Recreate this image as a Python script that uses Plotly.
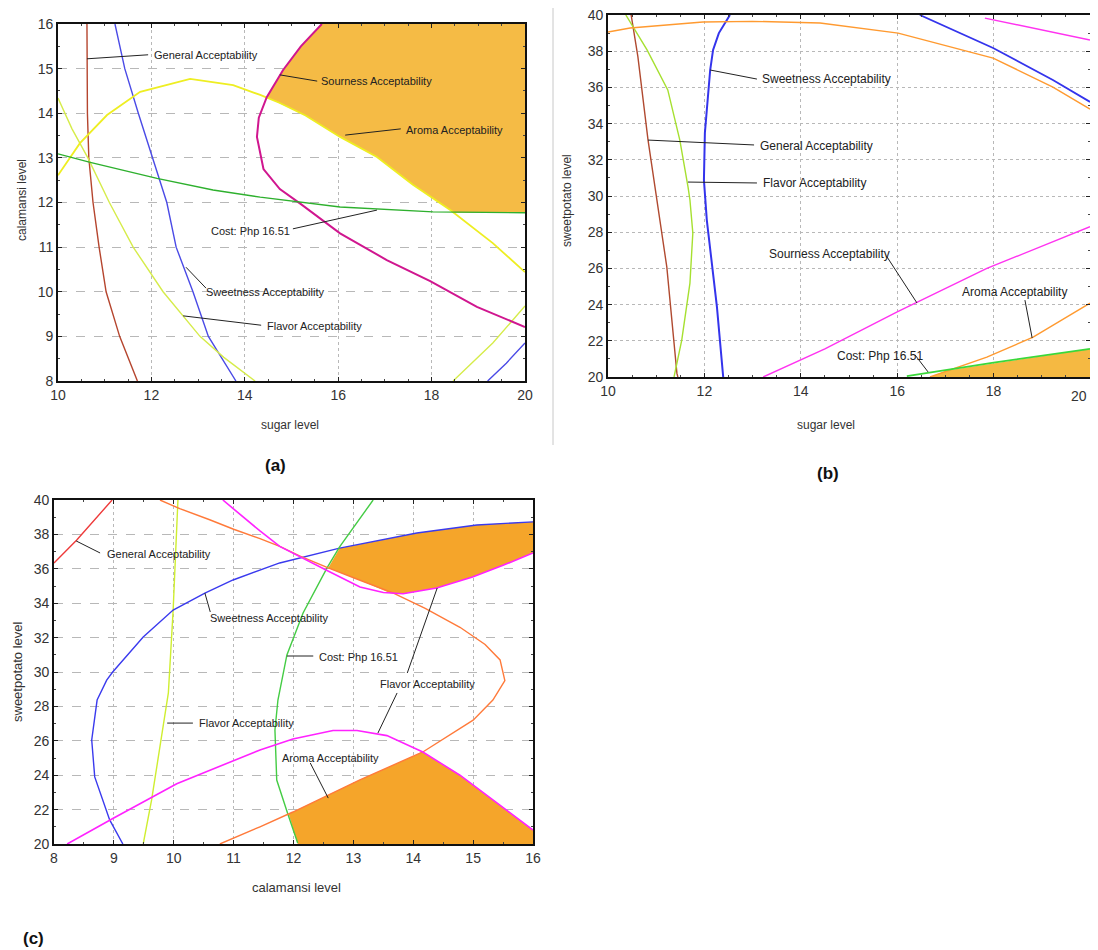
import plotly.graph_objects as go

# page body has an 8px margin: figure is sized to fill the window exactly
OFF = 8
W, H = 1098 - OFF, 950 - OFF

# ---------------- Panel (a): sugar level vs calamansi level ----------------
a_general_x = [10.62, 10.62, 10.63, 10.66, 10.75, 10.88, 11.03, 11.32, 11.70]
a_general_y = [16, 15, 14, 13, 12, 11, 10, 9, 8]
a_sweet_x = [11.22, 11.43, 11.72, 12.03, 12.33, 12.53, 12.89, 13.22, 13.81]
a_sweet_y = [16, 15, 14, 13, 12, 11, 10, 9, 8]
a_sweet2_x = [19.2, 19.6, 20.0]
a_sweet2_y = [8.0, 8.4, 8.85]
a_flavor_x = [10.0, 10.3, 10.64, 11.1, 11.61, 12.25, 13.04, 13.55, 14.22]
a_flavor_y = [14.34, 13.65, 13.0, 12.0, 11.0, 10.0, 9.0, 8.53, 8.0]
a_flavor2_x = [18.46, 19.31, 20.0]
a_flavor2_y = [8.0, 8.85, 9.68]
a_aroma_x = [10.0, 10.47, 11.05, 11.76, 12.83, 13.75, 14.33, 14.75, 15.3, 16.04, 16.83, 17.6, 18.4, 19.31, 20.0]
a_aroma_y = [12.61, 13.33, 13.96, 14.48, 14.77, 14.63, 14.41, 14.23, 13.95, 13.47, 13.02, 12.4, 11.83, 11.09, 10.44]
a_sour_x = [15.65, 15.2, 14.82, 14.47, 14.3, 14.26, 14.4, 14.75, 15.18, 16.04, 17.04, 17.97, 18.97, 20.0]
a_sour_y = [16.0, 15.5, 14.97, 14.36, 13.9, 13.47, 12.75, 12.3, 11.98, 11.31, 10.71, 10.24, 9.66, 9.21]
a_cost_x = [10.0, 10.69, 12.12, 13.32, 14.33, 16.04, 18.03, 20.0]
a_cost_y = [13.09, 12.9, 12.54, 12.28, 12.12, 11.9, 11.79, 11.77]
a_region_x = [15.65, 20.0, 20.0, 18.47, 18.4, 17.6, 16.83, 16.04, 15.3, 14.75, 14.47, 14.82, 15.2, 15.65]
a_region_y = [16.0, 16.0, 11.77, 11.77, 11.83, 12.4, 13.02, 13.47, 13.95, 14.23, 14.36, 14.97, 15.5, 16.0]

# ---------------- Panel (b): sugar level vs sweetpotato level ----------------
b_general_x = [10.48, 10.62, 10.83, 11.02, 11.22, 11.43, 11.45]
b_general_y = [40, 37.7, 33.1, 29.8, 26.08, 20.2, 20]
b_flavor_x = [10.37, 10.81, 11.24, 11.49, 11.66, 11.70, 11.76, 11.70, 11.53, 11.37]
b_flavor_y = [40, 38.07, 35.86, 33.09, 30.5, 29.78, 27.96, 25.19, 22.04, 20]
b_sweet_x = [12.53, 12.30, 12.18, 12.12, 12.01, 11.99, 12.05, 12.16, 12.26, 12.39]
b_sweet_y = [40, 39, 38.07, 36.96, 33.48, 30.88, 28.67, 26.08, 23.87, 20]
b_sweet2_x = [16.47, 17.99, 19.23, 20.0]
b_sweet2_y = [40, 38.18, 36.41, 35.2]
b_aroma_x = [10.0, 10.46, 11.97, 13.0, 14.4, 16.02, 17.99, 19.23, 20.0]
b_aroma_y = [39.06, 39.28, 39.61, 39.65, 39.56, 39.0, 37.62, 36.02, 34.8]
b_aroma2_x = [16.68, 17.86, 18.82, 20.0]
b_aroma2_y = [20.0, 21.1, 22.2, 24.08]
b_sour_x = [17.82, 20.0]
b_sour_y = [39.83, 38.62]
b_sour2_x = [13.22, 14.5, 16.0, 17.86, 20.0]
b_sour2_y = [20.0, 21.55, 23.6, 26.0, 28.3]
b_cost_x = [16.2, 18.0, 20.0]
b_cost_y = [20.05, 20.8, 21.55]
b_region_x = [16.68, 17.03, 20.0, 20.0, 16.68]
b_region_y = [20.0, 20.36, 21.55, 20.0, 20.0]

# ---------------- Panel (c): calamansi level vs sweetpotato level ----------------
c_general_x = [8.0, 8.38, 8.97]
c_general_y = [36.34, 37.67, 40.0]
c_flavor_x = [10.07, 10.03, 9.99, 9.91, 9.77, 9.63, 9.49]
c_flavor_y = [40, 37, 33.6, 28.78, 25.64, 22.56, 20]
c_sweet_x = [9.15, 8.93, 8.68, 8.63, 8.72, 8.88, 8.98, 9.49, 9.99, 10.52, 10.99, 11.77, 12.77, 14.06, 15.06, 16.0]
c_sweet_y = [20, 21.4, 23.9, 26.05, 28.37, 29.53, 30.0, 32.03, 33.6, 34.59, 35.35, 36.34, 37.2, 38.08, 38.55, 38.73]
c_cost_x = [13.33, 12.77, 12.56, 12.16, 11.89, 11.74, 11.69, 11.72, 11.9, 12.07]
c_cost_y = [40, 37.27, 36.05, 33.43, 30.99, 28.37, 26.63, 23.72, 21.8, 20.06]
c_aroma_x = [9.77, 10.1, 10.6, 11.0, 11.44, 11.77, 12.1, 12.58, 13.1, 13.66, 14.2, 14.78, 15.2, 15.45, 15.53,
             15.33, 15.0, 14.6, 14.16, 13.1, 11.99, 11.44, 10.77]
c_aroma_y = [40, 39.5, 38.85, 38.3, 37.75, 37.3, 36.75, 36.05, 35.35, 34.6, 33.7, 32.6, 31.6, 30.7, 29.5,
             28.37, 27.2, 26.3, 25.35, 23.72, 21.86, 21.0, 20.0]
c_mag_x = [10.82, 11.44, 11.77, 12.1, 12.56, 13.11, 13.5, 13.83, 14.39, 14.99, 15.5, 16.0]
c_mag_y = [40, 38.2, 37.3, 36.7, 35.9, 34.94, 34.62, 34.55, 34.88, 35.52, 36.2, 36.92]
c_mag2_x = [8.22, 8.99, 10.05, 11.0, 11.44, 11.99, 12.66, 13.06, 13.56, 14.16, 14.78, 15.33, 16.0]
c_mag2_y = [20, 21.5, 23.5, 24.85, 25.47, 26.1, 26.6, 26.6, 26.3, 25.35, 24.0, 22.56, 20.81]
c_region1_x = [12.58, 12.77, 14.06, 15.06, 16.0, 16.0, 15.5, 14.99, 14.39, 13.83, 13.62, 13.1, 12.58]
c_region1_y = [36.05, 37.2, 38.08, 38.55, 38.73, 36.92, 36.2, 35.52, 34.88, 34.55, 34.58, 35.35, 36.05]
c_region2_x = [12.07, 11.98, 11.92, 13.1, 14.16, 14.78, 15.33, 16.0, 16.0, 12.07]
c_region2_y = [20.0, 21.0, 21.75, 23.72, 25.35, 24.0, 22.56, 20.81, 20.0, 20.0]

# tick values
a_xticks = [10, 12, 14, 16, 18, 20]
a_yticks = [8, 9, 10, 11, 12, 13, 14, 15, 16]
b_xticks = [10, 12, 14, 16, 18, 20]
b_yticks = [20, 22, 24, 26, 28, 30, 32, 34, 36, 38, 40]
c_xticks = [8, 9, 10, 11, 12, 13, 14, 15, 16]
c_yticks = [20, 22, 24, 26, 28, 30, 32, 34, 36, 38, 40]

FONT = "Liberation Sans, Arial, sans-serif"
fig = go.Figure()


def line(x, y, color, ax, width=1.4):
    xa, ya = ax
    fig.add_trace(go.Scatter(x=x, y=y, mode="lines", line=dict(color=color, width=width),
                             xaxis=xa, yaxis=ya, showlegend=False, hoverinfo="skip"))


def region(x, y, color, ax):
    xa, ya = ax
    fig.add_trace(go.Scatter(x=x, y=y, mode="lines", fill="toself", fillcolor=color,
                             line=dict(width=0, color=color), xaxis=xa, yaxis=ya,
                             showlegend=False, hoverinfo="skip"))


A, B, C = ("x", "y"), ("x2", "y2"), ("x3", "y3")

# panel a
region(a_region_x, a_region_y, "#f5bb45", A)
line(a_general_x, a_general_y, "#b5452e", A)
line(a_sweet_x, a_sweet_y, "#4a4ae6", A)
line(a_sweet2_x, a_sweet2_y, "#4a4ae6", A)
line(a_flavor_x, a_flavor_y, "#d6ec4a", A)
line(a_flavor2_x, a_flavor2_y, "#d6ec4a", A)
line(a_aroma_x, a_aroma_y, "#eeee22", A, 1.8)
line(a_sour_x, a_sour_y, "#d0168f", A, 2.0)
line(a_cost_x, a_cost_y, "#2eb02e", A)

# panel b
region(b_region_x, b_region_y, "#f5b942", B)
line(b_general_x, b_general_y, "#b04a30", B)
line(b_flavor_x, b_flavor_y, "#a6e030", B)
line(b_sweet_x, b_sweet_y, "#3434ec", B, 2.0)
line(b_sweet2_x, b_sweet2_y, "#3434ec", B, 1.8)
line(b_aroma_x, b_aroma_y, "#ff9a30", B)
line(b_aroma2_x, b_aroma2_y, "#ff9a30", B)
line(b_sour_x, b_sour_y, "#ff33f0", B)
line(b_sour2_x, b_sour2_y, "#ff33f0", B)
line(b_cost_x, b_cost_y, "#3ad83a", B, 1.8)

# panel c
region(c_region1_x, c_region1_y, "#f5a52a", C)
region(c_region2_x, c_region2_y, "#f5a52a", C)
line(c_general_x, c_general_y, "#ee3a3a", C)
line(c_flavor_x, c_flavor_y, "#cfee30", C)
line(c_sweet_x, c_sweet_y, "#3a3aee", C)
line(c_cost_x, c_cost_y, "#44cc44", C)
line(c_aroma_x, c_aroma_y, "#ff7a3a", C)
line(c_mag_x, c_mag_y, "#ff22ff", C, 1.6)
line(c_mag2_x, c_mag2_y, "#ff22ff", C, 1.6)

# ---------------- axes ----------------
def axis(domain, ticks, rng, anchor, griddash, ticktext=None):
    d = dict(domain=domain, range=rng, tickvals=ticks, anchor=anchor,
             showline=True, linecolor="#111", linewidth=1.6, mirror="allticks",
             ticks="inside", ticklen=4, tickcolor="#222",
             minor=dict(ticks="inside", ticklen=2, tickcolor="#444", nticks=5),
             showgrid=True, gridcolor="#b8b8b8", gridwidth=1, griddash=griddash,
             zeroline=False, automargin=False, ticklabeloverflow="allow",
             tickfont=dict(family=FONT, size=14, color="#333"))
    if ticktext is not None:
        d["ticktext"] = ticktext
    return d


def px2x(p):
    return (p - OFF) / W


def py2y(p):
    return 1 - (p - OFF) / H


# last x label of panel (b) sits at the window edge: drawn right-aligned below
b_xtext = [str(v) for v in b_xticks[:-1]] + [""]

fig.update_layout(
    width=W, height=H, margin=dict(l=0, r=0, t=0, b=0, pad=0, autoexpand=False),
    paper_bgcolor="white", plot_bgcolor="white", showlegend=False,
    xaxis=axis([px2x(58), px2x(525)], a_xticks, [10, 20], "y", "dot"),
    yaxis=axis([py2y(381), py2y(24)], a_yticks, [8, 16], "x", "dash"),
    xaxis2=axis([px2x(608), px2x(1090)], b_xticks, [10, 20], "y2", "dot", b_xtext),
    yaxis2=axis([py2y(377), py2y(15)], b_yticks, [20, 40], "x2", "dot"),
    xaxis3=axis([px2x(54), px2x(533)], c_xticks, [8, 16], "y3", "dot"),
    yaxis3=axis([py2y(844), py2y(500)], c_yticks, [20, 40], "x3", "dash"),
)

# ---------------- labels with leader lines ----------------
labels = [
    # (xref, yref, text, tx, ty, lx0, ly0, lx1, ly1, size)
    ("x", "y", "General Acceptability", 12.01, 15.31, 10.62, 15.22, 11.93, 15.31, 11),
    ("x", "y", "Sourness Acceptability", 15.59, 14.72, 14.75, 14.86, 15.55, 14.72, 11),
    ("x", "y", "Aroma Acceptability", 17.41, 13.62, 16.15, 13.51, 17.34, 13.65, 11),
    ("x", "y", "Sweetness Acceptability", 13.13, 9.99, 12.74, 10.55, 13.17, 10.08, 11),
    ("x", "y", "Flavor Acceptability", 14.43, 9.23, 12.68, 9.46, 14.35, 9.25, 11),
    ("x2", "y2", "Sweetness Acceptability", 13.15, 36.46, 12.12, 36.96, 13.09, 36.46, 12),
    ("x2", "y2", "General Acceptability", 13.11, 32.76, 10.83, 33.09, 13.03, 32.82, 12),
    ("x2", "y2", "Flavor Acceptability", 13.17, 30.72, 11.66, 30.77, 13.09, 30.72, 12),
    ("x2", "y2", "Sourness Acceptability", 13.30, 26.80, 15.79, 26.63, 16.41, 24.09, 12),
    ("x2", "y2", "Aroma Acceptability", 17.30, 24.70, 18.65, 24.25, 18.80, 22.15, 12),
    ("x2", "y2", "Cost: Php 16.51", 14.71, 21.16, 16.37, 21.22, 16.64, 20.28, 12),
    ("x3", "y3", "General Acceptability", 8.85, 36.86, 8.37, 37.62, 8.77, 36.92, 11),
    ("x3", "y3", "Sweetness Acceptability", 10.57, 33.14, 10.52, 34.59, 10.61, 33.49, 11),
    ("x3", "y3", "Cost: Php 16.51", 12.39, 30.87, 11.89, 30.93, 12.33, 30.93, 11),
    ("x3", "y3", "Flavor Acceptability", 13.41, 29.30, 14.40, 34.88, 13.90, 29.94, 11),
    ("x3", "y3", "Flavor Acceptability", 10.39, 27.03, 9.89, 27.03, 10.32, 27.03, 11),
    ("x3", "y3", "Aroma Acceptability", 11.77, 25.00, 12.28, 24.71, 12.58, 22.67, 11),
]
extra_leaders = [
    ("x", "y", 15.03, 11.41, 16.83, 11.83),
    ("x3", "y3", 13.73, 28.78, 13.41, 26.45),
]

annotations = []
shapes = []
for xr, yr, text, tx, ty, x0, y0, x1, y1, size in labels:
    annotations.append(dict(xref=xr, yref=yr, x=tx, y=ty, text=text, showarrow=False,
                            xanchor="left", yanchor="middle",
                            font=dict(family=FONT, size=size, color="#222")))
    shapes.append(dict(type="line", xref=xr, yref=yr, x0=x0, y0=y0, x1=x1, y1=y1,
                       line=dict(color="#222", width=1)))
annotations.append(dict(xref="x", yref="y", x=15.01, y=11.36, text="Cost: Php 16.51", showarrow=False,
                        xanchor="right", yanchor="middle", font=dict(family=FONT, size=11, color="#222")))
for xr, yr, x0, y0, x1, y1 in extra_leaders:
    shapes.append(dict(type="line", xref=xr, yref=yr, x0=x0, y0=y0, x1=x1, y1=y1,
                       line=dict(color="#222", width=1)))

# right-most tick label of panel (b), kept inside the visible window
annotations.append(dict(xref="paper", yref="paper", x=px2x(1089), y=py2y(386), text=str(b_xticks[-1]),
                        showarrow=False, xanchor="right", yanchor="top",
                        font=dict(family=FONT, size=14, color="#333")))

# axis titles and panel letters (window pixel positions)
titles = [
    ("sugar level", 290, 425, 0, 12, False),
    ("calamansi level", 22, 200, -90, 12, False),
    ("sugar level", 826, 425, 0, 12, False),
    ("sweetpotato level", 567, 200, -90, 12, False),
    ("calamansi level", 296, 887, 0, 13, False),
    ("sweetpotato level", 17, 672, -90, 13, False),
    ("(a)", 275, 465, 0, 17, True),
    ("(b)", 828, 473, 0, 17, True),
    ("(c)", 33, 938, 0, 17, True),
]
for text, px, py, ang, size, bold in titles:
    annotations.append(dict(xref="paper", yref="paper", x=px2x(px), y=py2y(py),
                            text=f"<b>{text}</b>" if bold else text, textangle=ang,
                            showarrow=False, xanchor="center", yanchor="middle",
                            font=dict(family=FONT, size=size, color="#111" if bold else "#333")))

shapes.append(dict(type="line", xref="paper", yref="paper", x0=px2x(553), x1=px2x(553),
                   y0=py2y(8), y1=py2y(445), line=dict(color="#c8c8c8", width=1)))

fig.update_layout(annotations=annotations, shapes=shapes)
fig.write_html("out.html")
